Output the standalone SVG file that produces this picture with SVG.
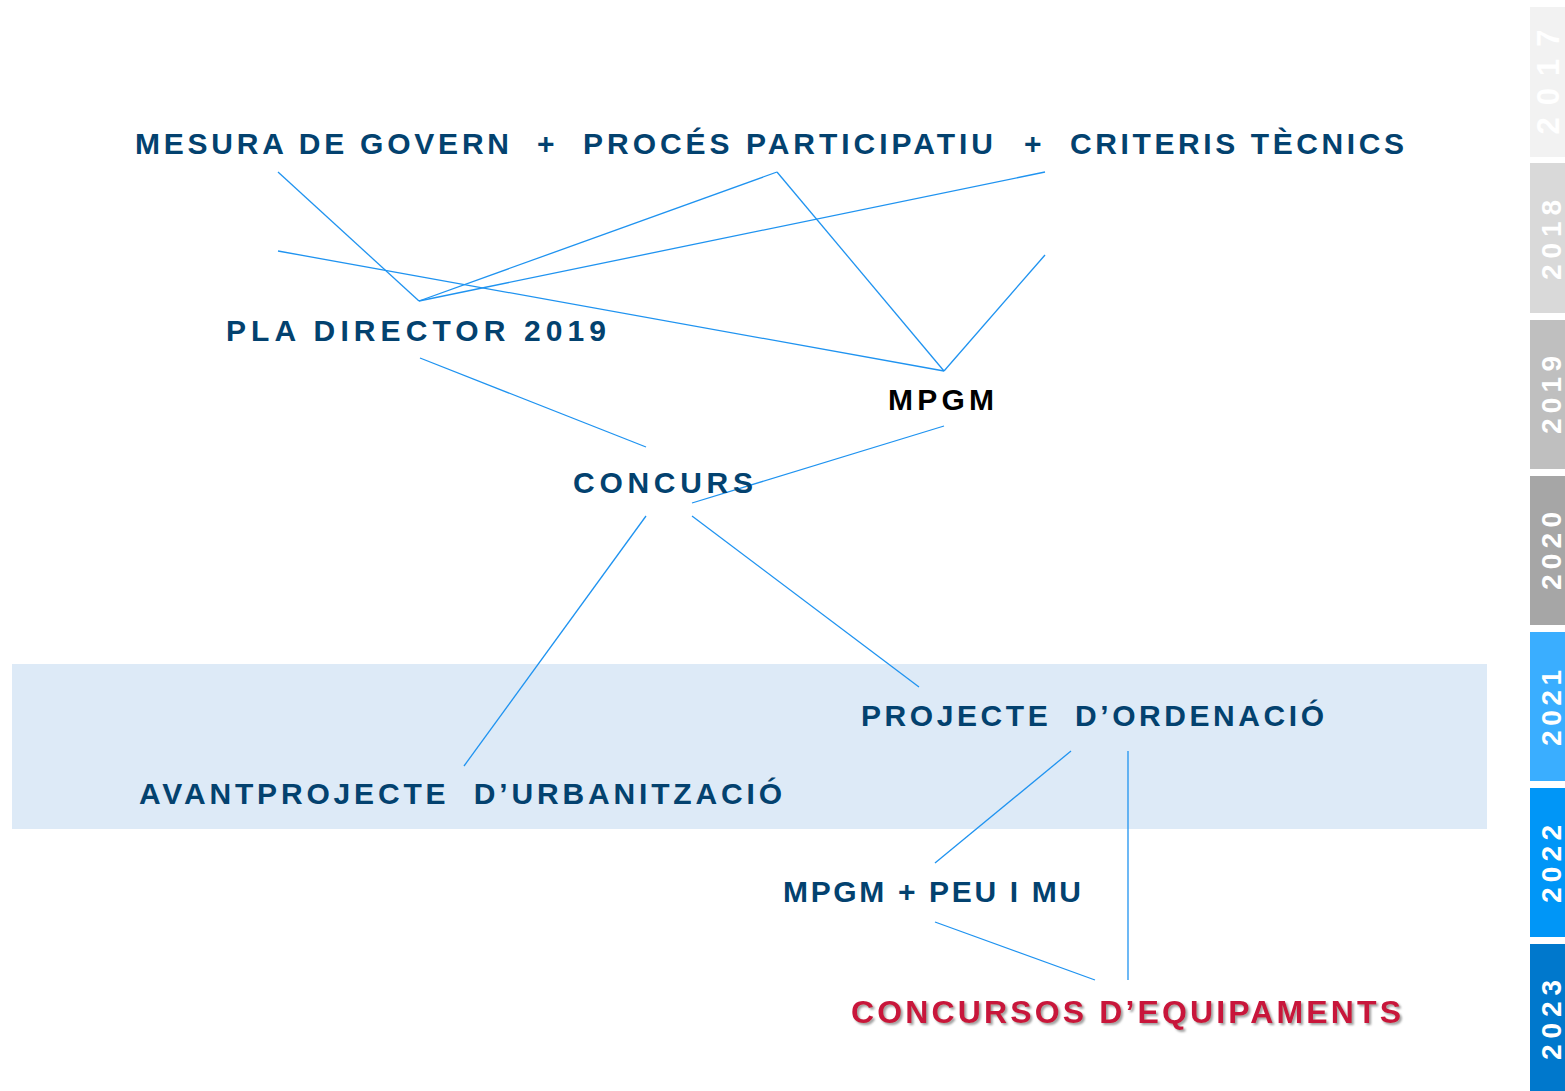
<svg xmlns="http://www.w3.org/2000/svg" width="1565" height="1091" viewBox="0 0 1565 1091">
<defs>
<style>
.t{font-family:"Liberation Sans",Arial,sans-serif;font-weight:bold;font-size:30px;fill:#03426f}
.k{fill:#000}
.r{font-size:32px;fill:#c8173a}
.y{font-family:"Liberation Sans",Arial,sans-serif;font-weight:bold;font-size:28px;fill:#fff;text-anchor:middle}
.c line{stroke:#1f93f0;stroke-width:1.3;fill:none}
</style>
<filter id="sh" x="-5%" y="-30%" width="110%" height="160%">
<feDropShadow dx="2" dy="2" stdDeviation="1.2" flood-color="#777" flood-opacity="0.7"/>
</filter>
</defs>
<rect x="0" y="0" width="1565" height="1091" fill="#fff"/>
<rect id="band2021" x="12" y="664" width="1475" height="165" fill="#ddeaf7"/>
<g id="years">
<rect x="1530" y="7" width="35" height="150" fill="#f2f2f2"/>
<rect x="1530" y="163" width="35" height="150" fill="#d9d9d9"/>
<rect x="1530" y="320" width="35" height="149" fill="#bfbfbf"/>
<rect x="1530" y="476" width="35" height="149" fill="#a6a6a6"/>
<rect x="1530" y="632" width="35" height="149" fill="#3aaeff"/>
<rect x="1530" y="788" width="35" height="149" fill="#0096f7"/>
<rect x="1530" y="944" width="35" height="147" fill="#0078cc"/>
<text class="y" style="font-size:31px" transform="translate(1559,82) rotate(-90)" textLength="105" lengthAdjust="spacing">2017</text>
<text class="y" transform="translate(1561,240) rotate(-90)" textLength="80" lengthAdjust="spacing">2018</text>
<text class="y" transform="translate(1561,395) rotate(-90)" textLength="78" lengthAdjust="spacing">2019</text>
<text class="y" transform="translate(1561,551) rotate(-90)" textLength="78" lengthAdjust="spacing">2020</text>
<text class="y" transform="translate(1561,708) rotate(-90)" textLength="76" lengthAdjust="spacing">2021</text>
<text class="y" transform="translate(1561,864) rotate(-90)" textLength="78" lengthAdjust="spacing">2022</text>
<text class="y" transform="translate(1561,1020) rotate(-90)" textLength="80" lengthAdjust="spacing">2023</text>
</g>
<g class="c" id="connectors">
<line x1="278" y1="172" x2="419" y2="301"/>
<line x1="419" y1="301" x2="777" y2="172"/>
<line x1="777" y1="172" x2="944" y2="371"/>
<line x1="419" y1="301" x2="1045" y2="172"/>
<line x1="278" y1="251" x2="944" y2="371"/>
<line x1="944" y1="371" x2="1045" y2="255"/>
<line x1="420" y1="358" x2="646" y2="447"/>
<line x1="944" y1="426" x2="692" y2="503"/>
<line x1="646" y1="516" x2="464" y2="766"/>
<line x1="692" y1="516" x2="919" y2="687"/>
<line x1="1071" y1="751" x2="935" y2="863"/>
<line x1="1128" y1="751" x2="1128" y2="980"/>
<line x1="935" y1="922" x2="1095" y2="980"/>
</g>
<g id="mesura"><text class="t" x="135" y="154" textLength="374" lengthAdjust="spacing">MESURA DE GOVERN</text></g>
<text class="t" x="537" y="154">+</text>
<g id="proces"><text class="t" x="583" y="154" textLength="410" lengthAdjust="spacing">PROCÉS PARTICIPATIU</text></g>
<text class="t" x="1024" y="154">+</text>
<g id="criteris"><text class="t" x="1070" y="154" textLength="334" lengthAdjust="spacing">CRITERIS TÈCNICS</text></g>
<g id="pla"><text class="t" x="226" y="341" textLength="380" lengthAdjust="spacing">PLA DIRECTOR 2019</text></g>
<g id="mpgm"><text class="t k" x="888" y="410" textLength="106" lengthAdjust="spacing">MPGM</text></g>
<g id="concurs"><text class="t" x="573" y="493" textLength="180" lengthAdjust="spacing">CONCURS</text></g>
<g id="projecte"><text class="t" x="861" y="726" textLength="463" lengthAdjust="spacing" xml:space="preserve">PROJECTE  D’ORDENACIÓ</text></g>
<g id="avantprojecte"><text class="t" x="139" y="804" textLength="643" lengthAdjust="spacing" xml:space="preserve">AVANTPROJECTE  D’URBANITZACIÓ</text></g>
<g id="mpgmpeu"><text class="t" x="783" y="902" textLength="298" lengthAdjust="spacing">MPGM + PEU I MU</text></g>
<g id="concursos"><text class="t r" x="851" y="1023" textLength="550" lengthAdjust="spacing" filter="url(#sh)">CONCURSOS D’EQUIPAMENTS</text></g>
</svg>
